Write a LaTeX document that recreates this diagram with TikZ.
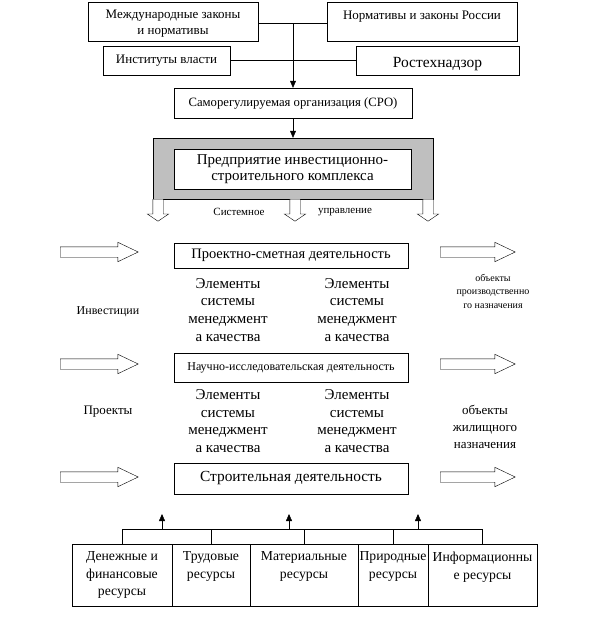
\documentclass[tikz,border=0pt]{standalone}
\usepackage{fontspec}
\setmainfont{Liberation Serif}
\usetikzlibrary{arrows.meta,shapes.arrows}
\begin{document}
\begin{tikzpicture}[x=1pt,y=-1pt]
		\tikzset{box/.style = {shape=rectangle,draw,inner sep=0pt,align=center}}
		\tikzset{txt/.style = {inner sep=0pt,align=center}}
		\tikzset{harrow/.style = {single arrow,draw,anchor=tail,inner sep=5pt,minimum width=0pt,minimum height=78pt,single arrow head extend=4.5pt,single arrow tip angle=51}}
		\tikzset{varrow/.style = {single arrow,draw,fill=white,anchor=tail,inner sep=5pt,minimum width=0pt,minimum height=22pt,single arrow head extend=5.5pt,single arrow tip angle=112,shape border rotate=270}}
		\tikzset{tip/.style = {-{Triangle[width=6pt,length=7pt]}}}
		\useasboundingbox (0,0) rectangle (597,630);
		% top boxes
		\node[box,minimum width=170pt,minimum height=39pt] (intl) at (173,21.5) {};
		\node[txt,font=\fontsize{13}{15.5}\selectfont] at (173,23.5) {Международные законы\\и нормативы};
		\node[box,minimum width=190pt,minimum height=39pt] (rus) at (422,21.5) {};
		\node[txt,font=\fontsize{13}{15.5}\selectfont] at (422,16.5) {Нормативы и законы России};
		\node[box,minimum width=127pt,minimum height=29pt,font=\fontsize{13}{16}\selectfont] (inst) at (166.5,60.5) {Институты власти};
		\node[box,minimum width=163pt,minimum height=29pt] (rtn) at (437.5,60.5) {};
		\node[txt,font=\fontsize{15.5}{18}\selectfont] at (437.5,64) {Ростехнадзор};
		\node[box,minimum width=238pt,minimum height=30pt,font=\fontsize{12.7}{14}\selectfont] (sro) at (293,103) {Саморегулируемая организация (СРО)};
		\coordinate (j1) at (293,23);
		\draw (intl.east |- j1) -- (rus.west |- j1);
		\draw (inst) -- (rtn);
		\draw[tip] (j1) -- (sro.north);
		% enterprise
		\node[box,fill=black!25,minimum width=280pt,minimum height=61pt] (frame) at (293,168.5) {};
		\node[box,fill=white,minimum width=237pt,minimum height=40pt,font=\fontsize{15}{16}\selectfont] (ent) at (292.5,169) {Предприятие инвестиционно-\\строительного комплекса};
		\draw[tip] (sro.south) -- (frame.north);
		\node[varrow] (d1) at (158,199) {};
		\node[varrow] (d2) at (295,199) {};
		\node[varrow] (d3) at (428,199) {};
		\node[txt,font=\fontsize{11}{12}\selectfont] (sys) at (239,212) {Системное};
		\node[txt,font=\fontsize{11}{12}\selectfont] (upr) at (345,212) {управление};
		% activities
		\node[box,minimum width=234pt,minimum height=25pt,font=\fontsize{14.5}{16}\selectfont] (psd) at (291,255.5) {Проектно-сметная деятельность};
		\node[box,minimum width=234pt,minimum height=29pt,font=\fontsize{12}{13}\selectfont] (nir) at (291,367.5) {Научно-исследовательская деятельность};
		\node[box,minimum width=234pt,minimum height=31pt,font=\fontsize{15.4}{16}\selectfont] (sd) at (291,478.5) {Строительная деятельность};
		\foreach \y/\n in {252/1,364/2,477/3} {
			\node[harrow] (l\n) at (60,\y) {};
			\node[harrow,minimum height=75pt] (r\n) at (440,\y) {};
		}
		\foreach \x/\y/\n in {228/310/a,357/310/b,228/421/c,357/421/d}
			\node[txt,font=\fontsize{15}{17.8}\selectfont] (q\n) at (\x,\y) {Элементы\\системы\\менеджмент\\а качества};
		\node[txt,font=\fontsize{12}{12}\selectfont] (inv) at (108,312) {Инвестиции};
		\node[txt,font=\fontsize{13}{15}\selectfont] (prj) at (108,412) {Проекты};
		\node[txt,font=\fontsize{10}{13.5}\selectfont] (obp) at (493,291) {объекты\\производственно\\го назначения};
		\node[txt,font=\fontsize{13}{17}\selectfont] (obz) at (485,427) {объекты\\жилищного\\назначения};
		% resources
		\tikzset{res/.style = {box,minimum height=62pt}}
		\tikzset{restxt/.style = {txt,anchor=north,font=\fontsize{13.7}{17.5}\selectfont}}
		\node[res,minimum width=100pt] (money) at (122,575) {};
		\node[res,minimum width=78pt] (labor) at (211,575) {};
		\node[res,minimum width=108pt] (mat) at (304,575) {};
		\node[res,minimum width=70pt] (nat) at (393,575) {};
		\node[res,minimum width=109pt] (info) at (482.5,575) {};
		\node[restxt] at ([yshift=-8pt]money.north) {Денежные и\\финансовые\\ресурсы};
		\node[restxt] at ([yshift=-8pt]labor.north) {Трудовые\\ресурсы};
		\node[restxt] at ([yshift=-8pt]mat.north) {Материальные\\ресурсы};
		\node[restxt] at ([yshift=-8pt]nat.north) {Природные\\ресурсы};
		\node[restxt] at ([yshift=-8pt]info.north) {Информационны\\е ресурсы};
		\coordinate (bus) at (0,529);
		\draw (money.north |- bus) -- (info.north |- bus);
		\foreach \b in {money,labor,mat,nat,info}
			\draw (\b.north) -- (\b.north |- bus);
		\foreach \x/\n in {162/1,289/2,418/3} {
			\coordinate (u\n) at (\x,529);
			\draw[tip] (u\n) -- (\x,514);
		}
\end{tikzpicture}
\end{document}
